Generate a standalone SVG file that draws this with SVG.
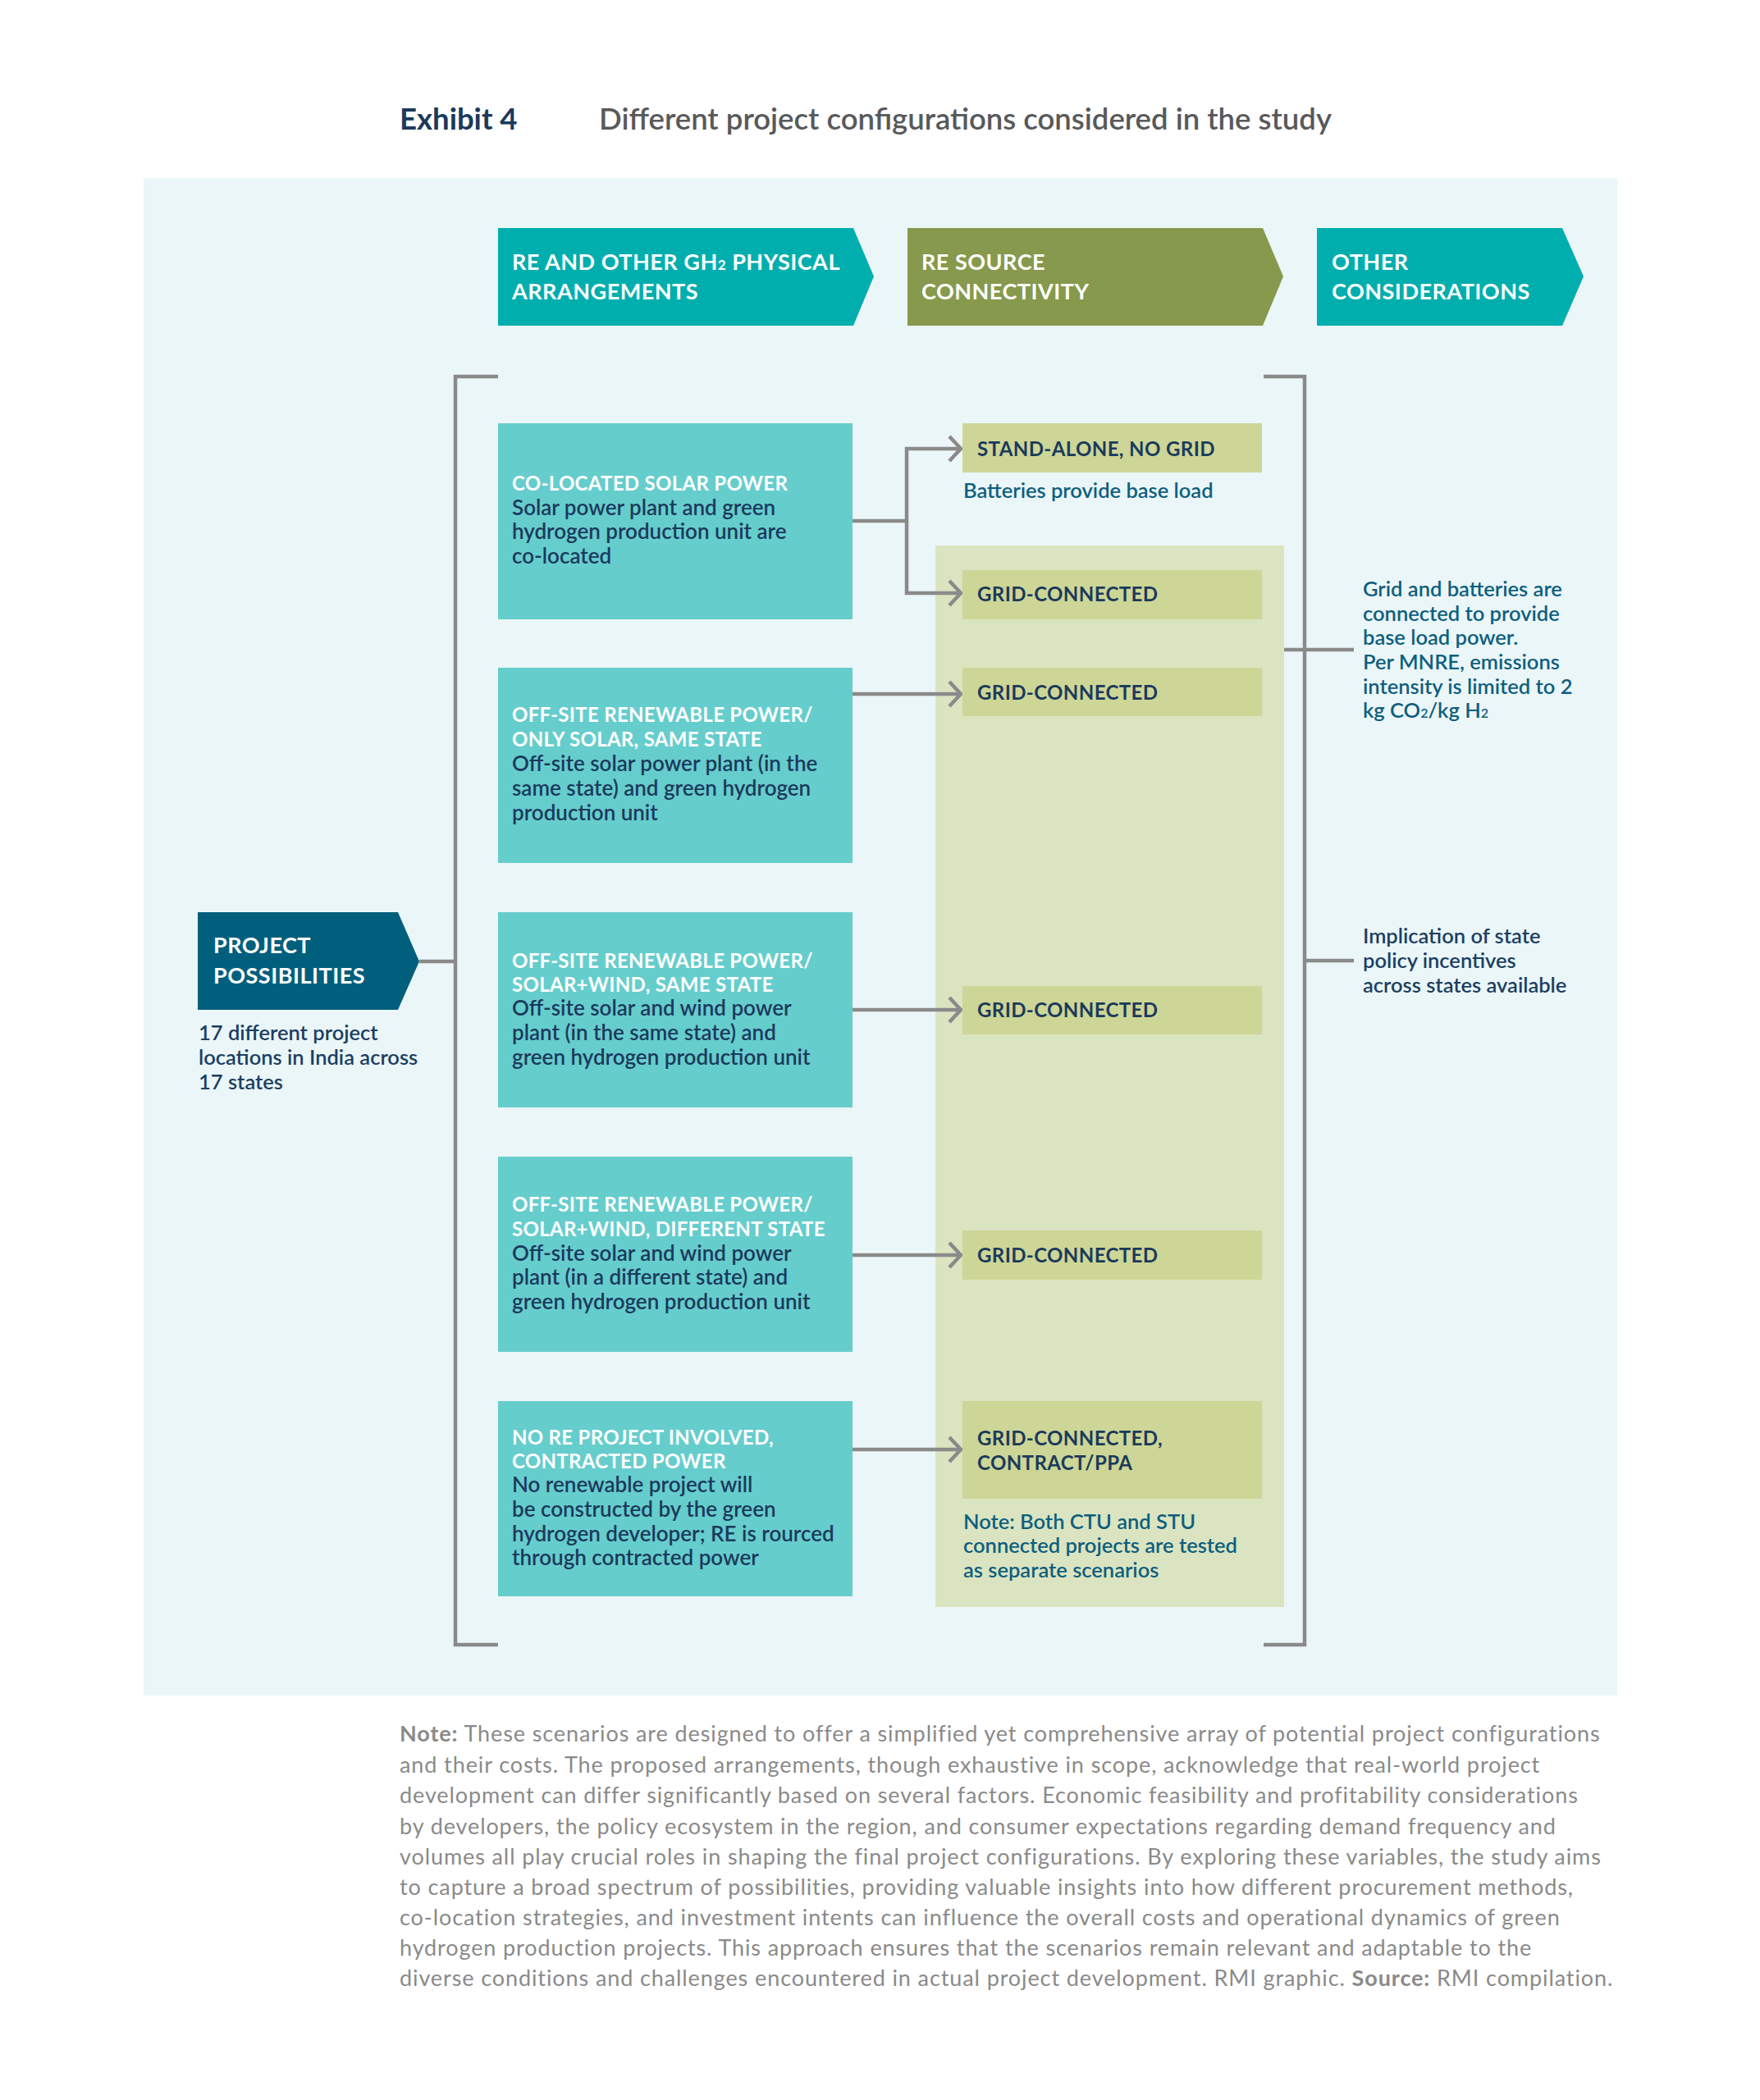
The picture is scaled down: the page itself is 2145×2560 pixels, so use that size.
<svg xmlns="http://www.w3.org/2000/svg" width="2145" height="2560" viewBox="0 0 2145 2560">
<defs>
<marker id="chev" markerUnits="userSpaceOnUse" markerWidth="22" markerHeight="36" refX="16" refY="17" orient="auto">
<path d="M2,2 L16,17 L2,32" fill="none" stroke="#8a8a8a" stroke-width="4.5"/>
</marker>
</defs>
<style>
text{font-family:Lato,"Liberation Sans",sans-serif}
.hdr{font-size:27px;font-weight:700;fill:#ffffff;letter-spacing:0.5px}
.bt{font-size:24px;font-weight:700;fill:#ffffff;letter-spacing:0.3px}
.bb{font-size:26px;font-weight:600;fill:#1b3a5c}
.gt{font-size:24px;font-weight:700;fill:#1b3a5c;letter-spacing:0.4px}
.tl{font-size:25.5px;font-weight:600;fill:#0e5f7f}
.nv{font-size:25.5px;font-weight:600;fill:#1b3f63}
.note{font-size:27px;font-weight:400;fill:#8a8a8a;letter-spacing:0.9px}
.box{fill:#66cdcd}
.gbox{fill:#cdd696}
.ln{fill:none;stroke:#8a8a8a;stroke-width:4.5}
</style>
<rect x="0" y="0" width="2145" height="2560" fill="#ffffff"/>
<g id="title">
<text x="487" y="158" style="font-size:36.5px;font-weight:700;fill:#1b3a5c">Exhibit 4</text>
<text x="730" y="158" style="font-size:36.5px;font-weight:600;fill:#58595b">Different project configurations considered in the study</text>
</g>
<rect id="panel" x="175" y="217" width="1796" height="1850" fill="#ebf6f8"/>
<rect id="grid-panel" x="1140" y="665" width="425" height="1294" fill="#dbe4c0"/>
<g id="header-arrangements">
<polygon points="607,278 1040,278 1065,337 1040,397 607,397" fill="#00aeae"/>
<text class="hdr" x="624" y="329">RE AND OTHER GH<tspan font-size="17">2</tspan> PHYSICAL</text>
<text class="hdr" x="624" y="365">ARRANGEMENTS</text>
</g>
<g id="header-connectivity">
<polygon points="1106,278 1539,278 1564,337 1539,397 1106,397" fill="#87994c"/>
<text class="hdr" x="1123" y="329">RE SOURCE</text>
<text class="hdr" x="1123" y="365">CONNECTIVITY</text>
</g>
<g id="header-other">
<polygon points="1605,278 1904,278 1930,337 1904,397 1605,397" fill="#00aeae"/>
<text class="hdr" x="1623" y="329">OTHER</text>
<text class="hdr" x="1623" y="365">CONSIDERATIONS</text>
</g>
<g id="project-possibilities">
<polygon points="241,1112 485,1112 511,1172 485,1231 241,1231" fill="#005f7c"/>
<text class="hdr" x="260" y="1162">PROJECT</text>
<text class="hdr" x="260" y="1199">POSSIBILITIES</text>
<text class="nv" x="242" y="1268">17 different project</text>
<text class="nv" x="242" y="1298">locations in India across</text>
<text class="nv" x="242" y="1328">17 states</text>
</g>
<g id="connectors">
<path class="ln" d="M607,459 H555 V2005 H607"/>
<path class="ln" d="M1540,459 H1590 V2005 H1540"/>
<path class="ln" d="M511,1172 H555"/>
<path class="ln" d="M1565,792 H1650"/>
<path class="ln" d="M1590,1171 H1650"/>
<path class="ln" d="M1039,635 H1105 V547 H1171" marker-end="url(#chev)"/>
<path class="ln" d="M1105,635 V723 H1171" marker-end="url(#chev)"/>
<path class="ln" d="M1039,846 H1171" marker-end="url(#chev)"/>
<path class="ln" d="M1039,1231 H1171" marker-end="url(#chev)"/>
<path class="ln" d="M1039,1530 H1171" marker-end="url(#chev)"/>
<path class="ln" d="M1039,1767 H1171" marker-end="url(#chev)"/>
</g>
<g id="box-colocated">
<rect class="box" x="607" y="516" width="432" height="239"/>
<text class="bt" x="624" y="598">CO-LOCATED SOLAR POWER</text>
<text class="bb" x="624" y="628">Solar power plant and green</text>
<text class="bb" x="624" y="657">hydrogen production unit are</text>
<text class="bb" x="624" y="687">co-located</text>
</g>
<g id="box-offsite-solar">
<rect class="box" x="607" y="814" width="432" height="238"/>
<text class="bt" x="624" y="880">OFF-SITE RENEWABLE POWER/</text>
<text class="bt" x="624" y="910">ONLY SOLAR, SAME STATE</text>
<text class="bb" x="624" y="940">Off-site solar power plant (in the</text>
<text class="bb" x="624" y="970">same state) and green hydrogen</text>
<text class="bb" x="624" y="1000">production unit</text>
</g>
<g id="box-offsite-same">
<rect class="box" x="607" y="1112" width="432" height="238"/>
<text class="bt" x="624" y="1180">OFF-SITE RENEWABLE POWER/</text>
<text class="bt" x="624" y="1209">SOLAR+WIND, SAME STATE</text>
<text class="bb" x="624" y="1238">Off-site solar and wind power</text>
<text class="bb" x="624" y="1268">plant (in the same state) and</text>
<text class="bb" x="624" y="1298">green hydrogen production unit</text>
</g>
<g id="box-offsite-different">
<rect class="box" x="607" y="1410" width="432" height="238"/>
<text class="bt" x="624" y="1477">OFF-SITE RENEWABLE POWER/</text>
<text class="bt" x="624" y="1507">SOLAR+WIND, DIFFERENT STATE</text>
<text class="bb" x="624" y="1537">Off-site solar and wind power</text>
<text class="bb" x="624" y="1566">plant (in a different state) and</text>
<text class="bb" x="624" y="1596">green hydrogen production unit</text>
</g>
<g id="box-contracted">
<rect class="box" x="607" y="1708" width="432" height="238"/>
<text class="bt" x="624" y="1761">NO RE PROJECT INVOLVED,</text>
<text class="bt" x="624" y="1790">CONTRACTED POWER</text>
<text class="bb" x="624" y="1819">No renewable project will</text>
<text class="bb" x="624" y="1849">be constructed by the green</text>
<text class="bb" x="624" y="1879">hydrogen developer; RE is rourced</text>
<text class="bb" x="624" y="1908">through contracted power</text>
</g>
<g id="standalone">
<rect class="gbox" x="1173" y="516" width="365" height="60"/>
<text class="gt" x="1191" y="556">STAND-ALONE, NO GRID</text>
<text class="tl" x="1174" y="607">Batteries provide base load</text>
</g>
<g id="grid-1">
<rect class="gbox" x="1173" y="695" width="365" height="60"/>
<text class="gt" x="1191" y="733">GRID-CONNECTED</text>
</g>
<g id="grid-2">
<rect class="gbox" x="1173" y="814" width="365" height="59"/>
<text class="gt" x="1191" y="853">GRID-CONNECTED</text>
</g>
<g id="grid-3">
<rect class="gbox" x="1173" y="1202" width="365" height="59"/>
<text class="gt" x="1191" y="1240">GRID-CONNECTED</text>
</g>
<g id="grid-4">
<rect class="gbox" x="1173" y="1500" width="365" height="60"/>
<text class="gt" x="1191" y="1539">GRID-CONNECTED</text>
</g>
<g id="grid-5">
<rect class="gbox" x="1173" y="1708" width="365" height="119"/>
<text class="gt" x="1191" y="1762">GRID-CONNECTED,</text>
<text class="gt" x="1191" y="1792">CONTRACT/PPA</text>
<text class="tl" x="1174" y="1864">Note: Both CTU and STU</text>
<text class="tl" x="1174" y="1893">connected projects are tested</text>
<text class="tl" x="1174" y="1923">as separate scenarios</text>
</g>
<g id="consideration-grid">
<text class="tl" x="1661" y="727">Grid and batteries are</text>
<text class="tl" x="1661" y="757">connected to provide</text>
<text class="tl" x="1661" y="786">base load power.</text>
<text class="tl" x="1661" y="816">Per MNRE, emissions</text>
<text class="tl" x="1661" y="846">intensity is limited to 2</text>
<text class="tl" x="1661" y="875">kg CO<tspan font-size="16">2</tspan>/kg H<tspan font-size="16">2</tspan></text>
</g>
<g id="consideration-policy">
<text class="nv" x="1661" y="1150">Implication of state</text>
<text class="nv" x="1661" y="1180">policy incentives</text>
<text class="nv" x="1661" y="1210">across states available</text>
</g>
<g id="note">
<text class="note" x="487" y="2123"><tspan font-weight="700">Note:</tspan> These scenarios are designed to offer a simplified yet comprehensive array of potential project configurations</text>
<text class="note" x="487" y="2161">and their costs. The proposed arrangements, though exhaustive in scope, acknowledge that real-world project</text>
<text class="note" x="487" y="2198">development can differ significantly based on several factors. Economic feasibility and profitability considerations</text>
<text class="note" x="487" y="2236">by developers, the policy ecosystem in the region, and consumer expectations regarding demand frequency and</text>
<text class="note" x="487" y="2273">volumes all play crucial roles in shaping the final project configurations. By exploring these variables, the study aims</text>
<text class="note" x="487" y="2310">to capture a broad spectrum of possibilities, providing valuable insights into how different procurement methods,</text>
<text class="note" x="487" y="2347">co-location strategies, and investment intents can influence the overall costs and operational dynamics of green</text>
<text class="note" x="487" y="2384">hydrogen production projects. This approach ensures that the scenarios remain relevant and adaptable to the</text>
<text class="note" x="487" y="2421">diverse conditions and challenges encountered in actual project development. RMI graphic. <tspan font-weight="700">Source:</tspan> RMI compilation.</text>
</g>
</svg>
